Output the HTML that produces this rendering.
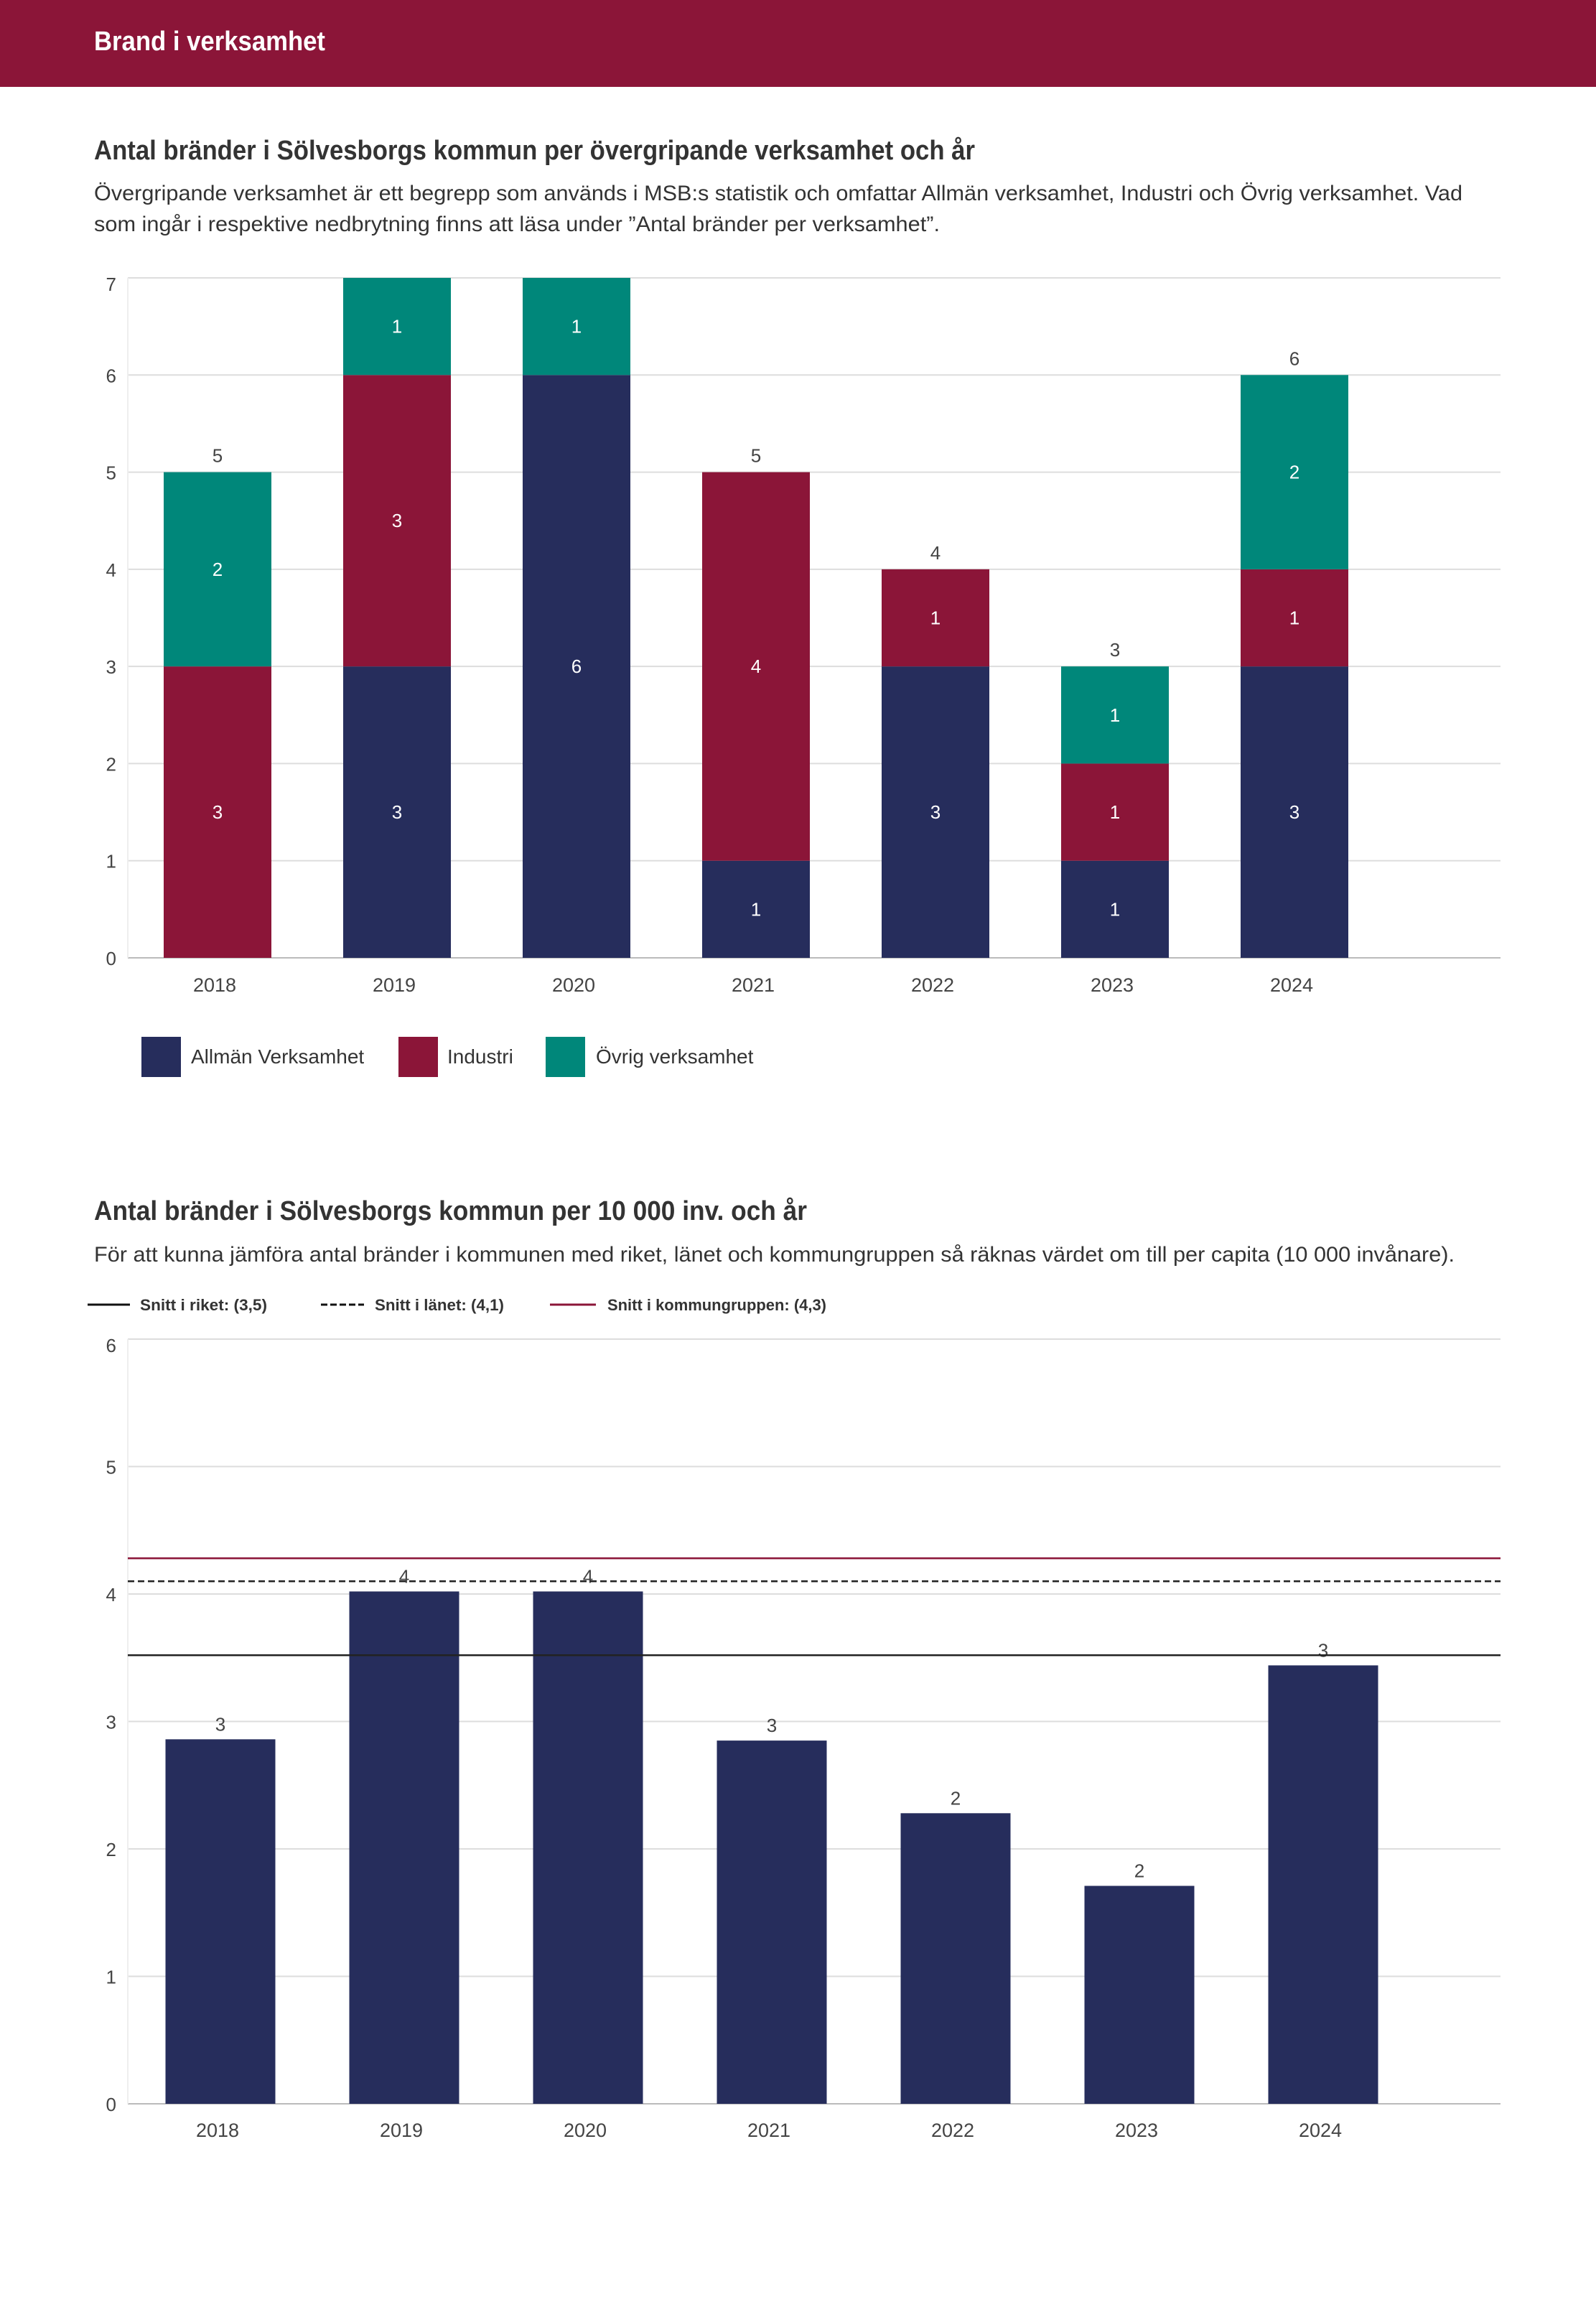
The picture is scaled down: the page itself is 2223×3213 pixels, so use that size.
<!DOCTYPE html>
<html><head><meta charset="utf-8">
<style>
html,body{margin:0;padding:0;background:#fff;}
svg{display:block;}
text{font-family:"Liberation Sans",sans-serif;}
</style></head>
<body>
<svg id="page" width="2223" height="3213" viewBox="0 0 2223 3213" xmlns="http://www.w3.org/2000/svg">
  <rect x="0" y="0" width="2223" height="121" fill="#8B1538"/>
  <text x="131" y="70" font-size="38" font-weight="bold" fill="#fff" textLength="322" lengthAdjust="spacingAndGlyphs">Brand i verksamhet</text>

  <text x="131" y="222" font-size="38" font-weight="bold" fill="#333" textLength="1227" lengthAdjust="spacingAndGlyphs">Antal bränder i Sölvesborgs kommun per övergripande verksamhet och år</text>
  <text x="131" y="279" font-size="30" fill="#333" textLength="1906" lengthAdjust="spacingAndGlyphs">Övergripande verksamhet är ett begrepp som används i MSB:s statistik och omfattar Allmän verksamhet, Industri och Övrig verksamhet. Vad</text>
  <text x="131" y="322" font-size="30" fill="#333" textLength="1178" lengthAdjust="spacingAndGlyphs">som ingår i respektive nedbrytning finns att läsa under ”Antal bränder per verksamhet”.</text>
  <g id="chart1"></g>

  <g>
    <rect x="197" y="1444" width="55" height="56" fill="#262D5C"/>
    <text x="266" y="1481" font-size="28" fill="#333">Allmän Verksamhet</text>
    <rect x="555" y="1444" width="55" height="56" fill="#8B1538"/>
    <text x="623" y="1481" font-size="28" fill="#333">Industri</text>
    <rect x="760" y="1444" width="55" height="56" fill="#00877A"/>
    <text x="830" y="1481" font-size="28" fill="#333">Övrig verksamhet</text>
  </g>

  <text x="131" y="1699" font-size="38" font-weight="bold" fill="#333" textLength="993" lengthAdjust="spacingAndGlyphs">Antal bränder i Sölvesborgs kommun per 10 000 inv. och år</text>
  <text x="131" y="1757" font-size="30" fill="#333" textLength="1895" lengthAdjust="spacingAndGlyphs">För att kunna jämföra antal bränder i kommunen med riket, länet och kommungruppen så räknas värdet om till per capita (10 000 invånare).</text>

  <g>
    <line x1="122" y1="1817" x2="181" y2="1817" stroke="#111" stroke-width="3"/>
    <text x="195" y="1825" font-size="22" font-weight="bold" fill="#333" textLength="177" lengthAdjust="spacingAndGlyphs">Snitt i riket: (3,5)</text>
    <line x1="447" y1="1817" x2="507" y2="1817" stroke="#111" stroke-width="3" stroke-dasharray="9,4"/>
    <text x="522" y="1825" font-size="22" font-weight="bold" fill="#333" textLength="180" lengthAdjust="spacingAndGlyphs">Snitt i länet: (4,1)</text>
    <line x1="766" y1="1817" x2="830" y2="1817" stroke="#8B1538" stroke-width="3"/>
    <text x="846" y="1825" font-size="22" font-weight="bold" fill="#333" textLength="305" lengthAdjust="spacingAndGlyphs">Snitt i kommungruppen: (4,3)</text>
  </g>
  <g id="chart2"></g>
</svg>
<script>
const NS = "http://www.w3.org/2000/svg";
// Chart 1 data
const years1 = ["2018","2019","2020","2021","2022","2023","2024"];
const allman = [0,3,6,1,3,1,3];
const industri = [3,3,0,4,1,1,1];
const ovrig = [2,1,1,0,0,1,2];
const ticks1 = [0,1,2,3,4,5,6,7];
// Chart 2 data
const years2 = ["2018","2019","2020","2021","2022","2023","2024"];
const perCapita = [2.86,4.02,4.02,2.85,2.28,1.71,3.44];
const perCapitaLabels = ["3","4","4","3","2","2","3"];
const ticks2 = [0,1,2,3,4,5,6];
const avgRiket = 3.52;
const avgLanet = 4.1;
const avgKommungrupp = 4.28;

function el(parent, tag, attrs){
  const e = document.createElementNS(NS, tag);
  for (const k in attrs) e.setAttribute(k, attrs[k]);
  parent.appendChild(e);
  return e;
}
function txt(parent, x, y, s, size, fill, anchor){
  const t = el(parent, "text", {x:x, y:y, "font-size":size, fill:fill, "text-anchor":anchor||"middle"});
  t.textContent = s;
  return t;
}

// ---------- Chart 1 ----------
(function(){
  const g = document.getElementById("chart1");
  const left = 178, right = 2090, y0 = 1334, yTop = 387, maxV = 7;
  const step = 250, barW = 150;
  const y = v => y0 - (y0 - yTop) * v / maxV;
  const x = i => left + step/2 + i*step;
  ticks1.forEach(t => {
    const l = el(g, "line", {x1:left, x2:right, y1:y(t), y2:y(t), stroke: t===0?"#bbb":"#ddd", "stroke-width":2});
    
    
    const tl = txt(g, 162, y(t)+ (t===maxV?18:10), String(t), 26, "#444", "end");
    
    
  });
  const ax = el(g, "line", {x1:left, x2:left, y1:yTop, y2:y0, stroke:"#eee", "stroke-width":2});
  
  
  const series = [[allman,"#262D5C","allman"],[industri,"#8B1538","industri"],[ovrig,"#00877A","ovrig"]];
  years1.forEach((yr, i) => {
    let base = 0;
    series.forEach(([arr, col, nm]) => {
      const v = arr[i];
      if (v > 0) {
        const r = el(g, "rect", {x:x(i)-barW/2, y:y(base+v), width:barW, height:y(base)-y(base+v), fill:col});
        
        
        const lt = txt(g, x(i), (y(base)+y(base+v))/2 + 9, String(v), 26, "#fff");
        
        
      }
      base += v;
    });
    if (base < maxV) {
      const tt = txt(g, x(i), y(base) - 14, String(base), 26, "#444");
      
      
    }
    const xl = txt(g, x(i)-4, 1381, yr, 27, "#444");
    
    
  });
})();

// ---------- Chart 2 ----------
(function(){
  const g = document.getElementById("chart2");
  const left = 178, right = 2090, y0 = 2930, yTop = 1865, maxV = 6;
  const step = 256, barW = 153;
  const y = v => y0 - (y0 - yTop) * v / maxV;
  const x = i => left + 129 + i*step;
  ticks2.forEach(t => {
    const l = el(g, "line", {x1:left, x2:right, y1:y(t), y2:y(t), stroke: t===0?"#bbb":"#ddd", "stroke-width":2});
    
    
    const tl = txt(g, 162, y(t)+ (t===maxV?18:10), String(t), 26, "#444", "end");
    
    
  });
  const ax = el(g, "line", {x1:left, x2:left, y1:yTop, y2:y0, stroke:"#eee", "stroke-width":2});
  
  
  years2.forEach((yr, i) => {
    const v = perCapita[i];
    const r = el(g, "rect", {x:x(i)-barW/2, y:y(v), width:barW, height:y0-y(v), fill:"#262D5C"});
    
    
    const lt = txt(g, x(i), y(v) - 12, perCapitaLabels[i], 26, "#444");
    
    
    const xl = txt(g, x(i)-4, 2976, yr, 27, "#444");
    
    
  });
  const l1 = el(g, "line", {x1:left, x2:right, y1:y(avgKommungrupp), y2:y(avgKommungrupp), stroke:"#8B1538", "stroke-width":2.5});
  
  
  const l2 = el(g, "line", {x1:left, x2:right, y1:y(avgLanet), y2:y(avgLanet), stroke:"#222", "stroke-width":2.5, "stroke-dasharray":"9,5"});
  
  
  const l3 = el(g, "line", {x1:left, x2:right, y1:y(avgRiket), y2:y(avgRiket), stroke:"#222", "stroke-width":2.5});
  
  
})();
</script>
</body></html>
